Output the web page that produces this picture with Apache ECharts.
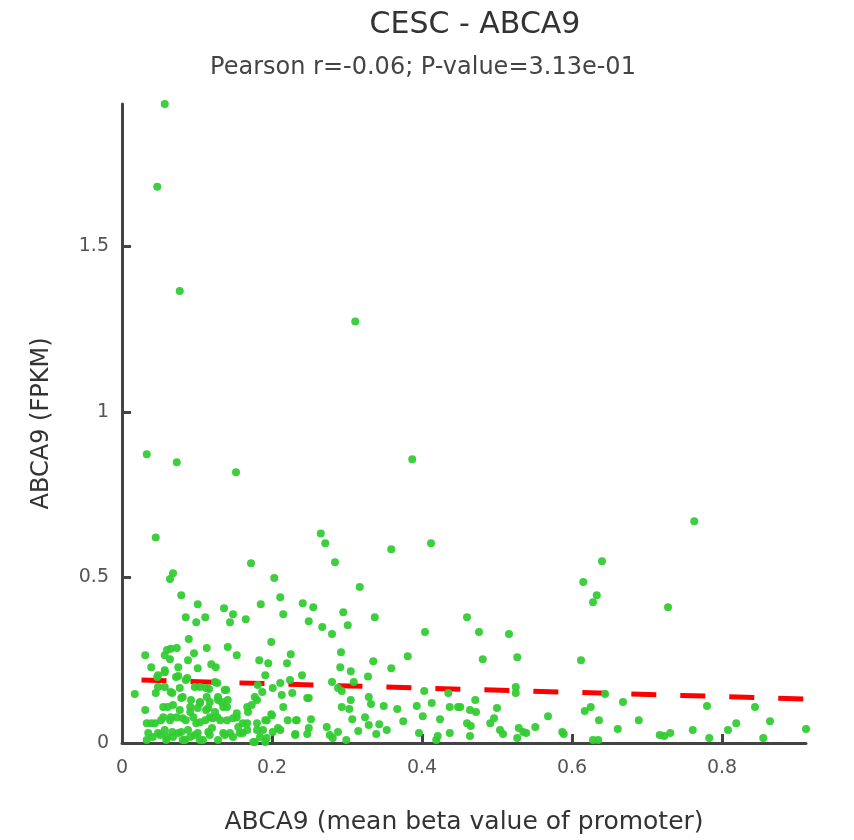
<!DOCTYPE html>
<html>
<head>
<meta charset="UTF-8" />
<title>CESC - ABCA9</title>
<script src="https://cdn.jsdelivr.net/npm/echarts@6/dist/echarts.min.js"></script>
<style>
  html, body { margin: 0; padding: 0; background: #fff; }
  #main { width: 854px; height: 840px; }
</style>
</head>
<body>
<div id="main"></div>
<script>
// values: [beta value, FPKM]
const highPoints = [
  [0.057,1.93],[0.047,1.68],[0.077,1.365],[0.311,1.273],[0.033,0.872],[0.073,0.848],[0.152,0.818],
  [0.387,0.857],[0.045,0.621],[0.265,0.633],[0.271,0.603],[0.359,0.585],[0.412,0.603],[0.068,0.513],
  [0.064,0.495],[0.172,0.543],[0.284,0.546],[0.203,0.498],[0.317,0.471],[0.763,0.670],[0.728,0.41],
  [0.64,0.549],[0.615,0.486],[0.633,0.446],[0.628,0.425]
];
const midPoints = [
  [0.46,0.38],[0.476,0.335],[0.516,0.329],[0.481,0.253],[0.527,0.259],[0.612,0.25],
  [0.211,0.44],[0.215,0.389],[0.241,0.422],[0.255,0.41],[0.249,0.368],[0.267,0.35],[0.28,0.329],
  [0.295,0.395],[0.301,0.356],[0.337,0.38],[0.404,0.335],
  [0.225,0.268],[0.22,0.241],[0.292,0.274],[0.291,0.229],[0.305,0.217],[0.335,0.247],[0.359,0.226],
  [0.381,0.262],[0.328,0.201],[0.24,0.205],
  [0.079,0.446],[0.101,0.419],[0.085,0.38],[0.099,0.365],[0.111,0.38],[0.136,0.407],[0.148,0.389],
  [0.144,0.365],[0.165,0.374],[0.185,0.419],
  [0.089,0.314],[0.113,0.287],[0.141,0.29],[0.153,0.265],[0.199,0.305],[0.183,0.25],[0.195,0.241],
  [0.031,0.265],[0.039,0.229],[0.06,0.281],[0.057,0.265],[0.064,0.253],[0.073,0.287],[0.096,0.271],
  [0.125,0.229],[0.057,0.22],[0.075,0.229],[0.088,0.25],[0.101,0.226],[0.119,0.238],[0.065,0.285]
];
const lowPoints = [
  [0.047,0.199],[0.075,0.202],[0.087,0.196],[0.048,0.205],[0.057,0.214],[0.072,0.199],[0.085,0.19],
  [0.191,0.205],[0.127,0.181],[0.224,0.19],
  [0.017,0.148],[0.045,0.151],[0.057,0.169],[0.067,0.151],[0.077,0.166],[0.081,0.139],[0.104,0.169],
  [0.116,0.163],[0.124,0.184],[0.139,0.16],[0.113,0.139],[0.128,0.13],
  [0.097,0.169],[0.112,0.166],[0.048,0.169],[0.065,0.154],[0.079,0.136],[0.092,0.13],[0.104,0.124],
  [0.117,0.124],[0.128,0.139],
  [0.031,0.1],[0.055,0.109],[0.068,0.115],[0.077,0.1],[0.091,0.109],[0.104,0.121],[0.115,0.106],
  [0.135,0.109],[0.141,0.13],[0.153,0.09],[0.167,0.109],[0.177,0.139],[0.187,0.154],[0.181,0.175],
  [0.201,0.166],[0.199,0.087],
  [0.061,0.109],[0.091,0.094],[0.101,0.106],[0.112,0.1],[0.137,0.16],[0.133,0.124],[0.14,0.109],
  [0.247,0.136],[0.18,0.13],[0.173,0.115],[0.168,0.094],[0.124,0.094],
  [0.211,0.181],[0.28,0.184],[0.288,0.166],[0.309,0.184],[0.293,0.157],[0.227,0.151],[0.213,0.145],
  [0.249,0.136],[0.329,0.139],[0.403,0.157],[0.435,0.151],
  [0.215,0.109],[0.293,0.109],[0.305,0.13],[0.303,0.103],[0.332,0.118],[0.349,0.112],[0.367,0.103],
  [0.393,0.112],[0.413,0.121],[0.437,0.109],[0.448,0.109],
  [0.525,0.169],[0.525,0.151],[0.644,0.148],[0.471,0.13],[0.451,0.109],[0.464,0.1],[0.472,0.094],
  [0.5,0.106],[0.625,0.109],[0.617,0.097],[0.668,0.124],[0.78,0.112],[0.844,0.109]
];
const bottomPoints = [
  [0.221,0.069],[0.232,0.069],[0.252,0.072],[0.307,0.072],[0.324,0.078],[0.375,0.066],[0.401,0.081],
  [0.424,0.072],[0.273,0.048],[0.329,0.054],[0.343,0.057],[0.211,0.039],[0.249,0.045],[0.247,0.027],
  [0.231,0.027],[0.288,0.033],[0.277,0.024],[0.281,0.015],[0.299,0.009],[0.315,0.036],[0.339,0.027],
  [0.353,0.039],[0.396,0.03],[0.419,0.009],[0.421,0.021],[0.437,0.03],
  [0.496,0.075],[0.491,0.06],[0.46,0.06],[0.465,0.051],[0.568,0.081],[0.636,0.069],[0.689,0.069],
  [0.551,0.048],[0.529,0.045],[0.504,0.039],[0.508,0.027],[0.535,0.033],[0.539,0.03],[0.527,0.015],
  [0.464,0.021],[0.587,0.033],[0.589,0.027],[0.661,0.042],[0.628,0.009],[0.635,0.009],[0.717,0.024],
  [0.819,0.06],[0.864,0.066],[0.761,0.039],[0.731,0.03],[0.723,0.021],[0.808,0.039],[0.783,0.015],
  [0.855,0.015],[0.912,0.042],
  [0.033,0.06],[0.044,0.06],[0.055,0.078],[0.064,0.069],[0.073,0.078],[0.081,0.075],[0.095,0.078],
  [0.104,0.063],[0.117,0.078],[0.127,0.078],[0.14,0.069],[0.153,0.078],[0.161,0.06],[0.18,0.06],
  [0.193,0.069],[0.167,0.039],
  [0.035,0.03],[0.033,0.009],[0.041,0.018],[0.051,0.024],[0.06,0.018],[0.067,0.033],[0.075,0.03],
  [0.081,0.009],[0.088,0.039],[0.097,0.024],[0.104,0.009],[0.117,0.024],[0.128,0.009],[0.135,0.03],
  [0.148,0.018],[0.157,0.03],[0.177,0.003],[0.188,0.039],[0.193,0.015],[0.201,0.033],
  [0.039,0.06],[0.052,0.069],[0.065,0.078],[0.085,0.069],[0.099,0.06],[0.111,0.069],[0.121,0.075],
  [0.048,0.03],[0.057,0.039],[0.068,0.018],[0.079,0.033],[0.091,0.018],[0.101,0.03],[0.115,0.033],
  [0.059,0.009],[0.084,0.009],[0.108,0.009],
  [0.131,0.069],[0.148,0.075],[0.155,0.048],[0.167,0.06],[0.191,0.069],[0.2,0.084],[0.208,0.045],
  [0.233,0.069],[0.12,0.045],[0.137,0.024],[0.144,0.03],[0.161,0.03],[0.18,0.039],[0.184,0.018],
  [0.231,0.024],[0.175,0.003],[0.191,0.003]
];

// fitted trend line ends
const trendX = [0.026, 0.912];
const trendY = [0.190, 0.133];

const xMax = 0.912;
const yMax = 1.93;

const points = highPoints.concat(midPoints, lowPoints, bottomPoints);
const trend = trendX.map((x, i) => [x, trendY[i]]);

const chart = echarts.init(document.getElementById('main'));
const font = 'DejaVu Sans';
const axisColor = '#444';

chart.setOption({
  animation: false,
  title: [
    {
      text: 'CESC - ABCA9',
      left: 470, top: 5, textAlign: 'center',
      textStyle: { fontFamily: font, fontSize: 30, fontWeight: 'normal', color: '#333' }
    },
    {
      text: 'Pearson r=-0.06; P-value=3.13e-01',
      left: 418, top: 51, textAlign: 'center',
      textStyle: { fontFamily: font, fontSize: 24, fontWeight: 'normal', color: '#444' }
    }
  ],
  grid: { left: 122, right: 48, top: 104, bottom: 97 },
  xAxis: {
    type: 'value', min: 0, max: xMax, interval: 0.2,
    name: 'ABCA9 (mean beta value of promoter)',
    nameLocation: 'middle', nameGap: 67,
    nameTextStyle: { fontFamily: font, fontSize: 25, color: '#333' },
    axisLine: { lineStyle: { color: axisColor, width: 3 } },
    axisTick: { inside: true, length: 9, lineStyle: { color: axisColor, width: 3 } },
    axisLabel: { fontFamily: font, fontSize: 19, color: '#555', margin: 16, showMaxLabel: false },
    splitLine: { show: false }
  },
  yAxis: {
    type: 'value', min: 0, max: yMax, interval: 0.5,
    name: 'ABCA9 (FPKM)',
    nameLocation: 'middle', nameGap: 68,
    nameTextStyle: { fontFamily: font, fontSize: 24, color: '#333' },
    axisLine: { lineStyle: { color: axisColor, width: 3 } },
    axisTick: { inside: true, length: 9, lineStyle: { color: axisColor, width: 3 } },
    axisLabel: { fontFamily: font, fontSize: 19, color: '#555', margin: 13, showMaxLabel: false },
    splitLine: { show: false }
  },
  series: [
    {
      type: 'line',
      data: trend,
      symbol: 'none',
      lineStyle: { color: '#ff0000', width: 5, type: [25, 24] },
      z: 1
    },
    {
      type: 'scatter',
      data: points,
      symbolSize: 8,
      itemStyle: { color: '#33cc33', opacity: 0.95 },
      z: 2
    }
  ]
});
</script>
</body>
</html>
